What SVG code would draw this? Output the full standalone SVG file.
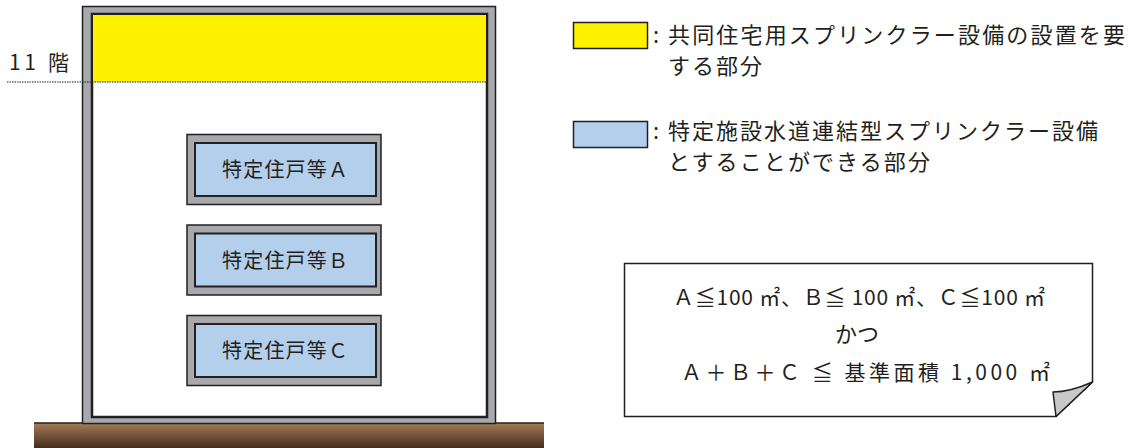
<svg xmlns="http://www.w3.org/2000/svg" width="1131" height="448" viewBox="0 0 1131 448">
<defs>
<linearGradient id="ground" x1="0" y1="0" x2="0" y2="1">
<stop offset="0" stop-color="#a57d57"/>
<stop offset="1" stop-color="#452a1c"/>
</linearGradient>
<style>
.t{font-family:"Noto Sans CJK JP","Noto Sans",sans-serif;fill:#231f20}
.wall{fill:#a7a9ac;stroke:#231f20;stroke-width:1.5}
.inner{stroke:#231f20;stroke-width:2.5}
.unitO{fill:#a7a9ac;stroke:#231f20;stroke-width:1.5}
.unitI{fill:#b4cfeb;stroke:#231f20;stroke-width:2}
</style>
</defs>
<rect x="0" y="0" width="1131" height="448" fill="#ffffff"/>
<g id="ground-g">
<rect x="34" y="423" width="510" height="25" fill="url(#ground)"/>
<line x1="34" y1="423" x2="544" y2="423" stroke="#231f20" stroke-width="1.5"/>
</g>
<g id="building">
<rect class="wall" x="82.5" y="6.5" width="413" height="417"/>
<rect x="92" y="14" width="395" height="403" fill="#ffffff" class="inner"/>
<rect x="93" y="15" width="393" height="67" fill="#fff200"/>
<line x1="7" y1="82" x2="486" y2="82" stroke="#231f20" stroke-width="1.2" stroke-dasharray="1.5,1"/>
<text class="t" x="9" y="70" font-size="21" textLength="60" lengthAdjust="spacing">11 階</text>
</g>
<g id="unitA">
<rect class="unitO" x="187" y="134.5" width="194" height="70"/>
<rect class="unitI" x="195" y="143" width="181" height="53"/>
<text class="t" x="222" y="177" font-size="20" textLength="126" lengthAdjust="spacing">特定住戸等Ａ</text>
</g>
<g id="unitB">
<rect class="unitO" x="187" y="225" width="194" height="70"/>
<rect class="unitI" x="195" y="233.5" width="181" height="53"/>
<text class="t" x="222" y="267.5" font-size="20" textLength="126" lengthAdjust="spacing">特定住戸等Ｂ</text>
</g>
<g id="unitC">
<rect class="unitO" x="187" y="315.5" width="194" height="70"/>
<rect class="unitI" x="195" y="324" width="181" height="53"/>
<text class="t" x="222" y="358" font-size="20" textLength="126" lengthAdjust="spacing">特定住戸等Ｃ</text>
</g>
<g id="legend-yellow">
<rect x="573.5" y="22.5" width="74" height="26" fill="#fff200" stroke="#231f20" stroke-width="1.5"/>
<text class="t" x="653" y="43" font-size="22">:</text>
<text class="t" x="668" y="43" font-size="22" textLength="457" lengthAdjust="spacing">共同住宅用スプリンクラー設備の設置を要</text>
<text class="t" x="668" y="74" font-size="22" textLength="94" lengthAdjust="spacing">する部分</text>
</g>
<g id="legend-blue">
<rect x="573.5" y="121.5" width="74" height="26" fill="#b4cfeb" stroke="#231f20" stroke-width="1.5"/>
<text class="t" x="653" y="139" font-size="22">:</text>
<text class="t" x="668" y="139" font-size="22" textLength="430" lengthAdjust="spacing">特定施設水道連結型スプリンクラー設備</text>
<text class="t" x="668" y="170" font-size="22" textLength="262" lengthAdjust="spacing">とすることができる部分</text>
</g>
<g id="note">
<path d="M624.5,263.5 H1092.5 V382 L1056,416.5 H624.5 Z" fill="#ffffff" stroke="#231f20" stroke-width="1.5"/>
<path d="M1092.5,382 Q1070,392 1053,392 L1056,416.5 Z" fill="#c8c8c8" stroke="#231f20" stroke-width="1.5" stroke-linejoin="round"/>
<text class="t" x="673" y="305" font-size="21" textLength="372" lengthAdjust="spacing">Ａ≦100 ㎡、Ｂ≦ 100 ㎡、Ｃ≦100 ㎡</text>
<text class="t" x="857" y="342" font-size="22" text-anchor="middle">かつ</text>
<text class="t" x="681" y="380" font-size="21" textLength="369" lengthAdjust="spacing">Ａ＋Ｂ＋Ｃ ≦ 基準面積 1,000 ㎡</text>
</g>
</svg>
